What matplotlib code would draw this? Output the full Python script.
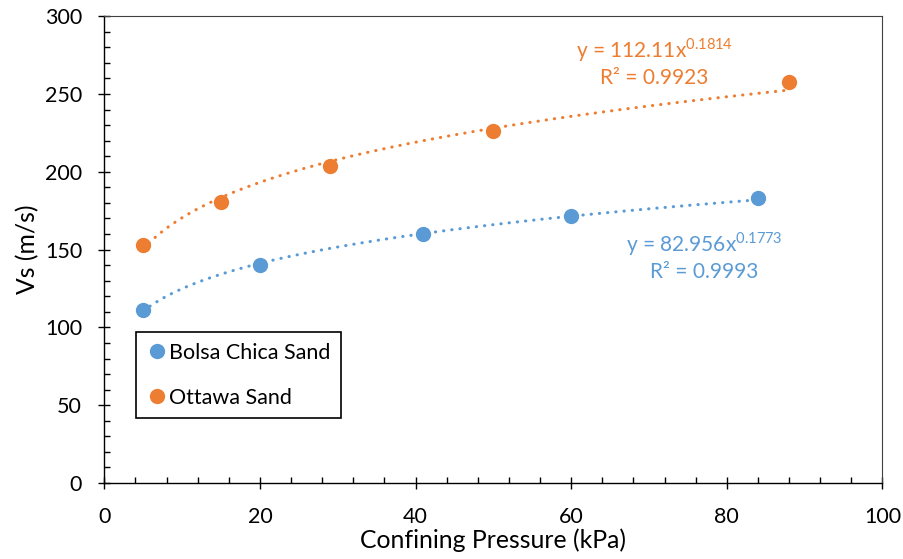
import numpy as np
import matplotlib

matplotlib.use("Agg")
import matplotlib.pyplot as plt
from matplotlib.ticker import MultipleLocator

plt.rcParams["font.family"] = ["Lato", "DejaVu Sans"]

# data
bolsa_p = [5, 20, 41, 60, 84]
bolsa_vs = [111, 140, 160, 171.5, 183]
ottawa_p = [5, 15, 29, 50, 88]
ottawa_vs = [153, 180.5, 204, 226, 258]

blue = "#5B9BD5"
orange = "#ED7D31"


def power_fit(x, y):
    b, log_a = np.polyfit(np.log(x), np.log(y), 1)
    return np.exp(log_a), b


fig = plt.figure(figsize=(9.04, 5.59), dpi=100)
ax = fig.add_axes([0.1154, 0.136, 0.8608, 0.835])

for px, vs, c in [(bolsa_p, bolsa_vs, blue), (ottawa_p, ottawa_vs, orange)]:
    a, b = power_fit(px, vs)
    xs = np.linspace(min(px), max(px), 200)
    ax.plot(xs, a * xs ** b, color=c, lw=2.2, linestyle=(0, (0.1, 2.6)),
            dash_capstyle="round", zorder=2)

ax.plot(bolsa_p, bolsa_vs, "o", color=blue, ms=10, label="Bolsa Chica Sand", zorder=3)
ax.plot(ottawa_p, ottawa_vs, "o", color=orange, ms=10, label="Ottawa Sand", zorder=3)

ax.text(0.707, 0.927, "y = 112.11x$^{\\mathregular{0.1814}}$", transform=ax.transAxes, color=orange,
        fontsize=15, ha="center", va="center")
ax.text(0.707, 0.867, "R² = 0.9923", transform=ax.transAxes, color=orange,
        fontsize=15, ha="center", va="center")
ax.text(0.771, 0.512, "y = 82.956x$^{\\mathregular{0.1773}}$", transform=ax.transAxes, color=blue,
        fontsize=15, ha="center", va="center")
ax.text(0.771, 0.452, "R² = 0.9993", transform=ax.transAxes, color=blue,
        fontsize=15, ha="center", va="center")

ax.set_xlim(0, 100)
ax.set_ylim(0, 300)
ax.xaxis.set_major_locator(MultipleLocator(20))
ax.xaxis.set_minor_locator(MultipleLocator(4))
ax.yaxis.set_major_locator(MultipleLocator(50))
ax.yaxis.set_minor_locator(MultipleLocator(10))
ax.tick_params(which="major", direction="inout", length=8, width=1.0, labelsize=15.5)
ax.tick_params(axis="x", which="major", pad=13)
ax.tick_params(axis="y", which="major", pad=12)
ax.tick_params(which="minor", direction="in", length=4, width=1.0)
for side in ["top", "right"]:
    ax.spines[side].set_linewidth(0.8)
    ax.spines[side].set_color("#404040")
for side in ["left", "bottom"]:
    ax.spines[side].set_linewidth(1.0)

ax.set_xlabel("Confining Pressure (kPa)", fontsize=17.8, labelpad=1)
ax.set_ylabel("Vs (m/s)", fontsize=17.8, labelpad=4)

leg = ax.legend(loc="upper left", bbox_to_anchor=(0.041, 0.323), borderaxespad=0, fontsize=15.5,
                handletextpad=0.1, handlelength=0.9, borderpad=0.5, labelspacing=1.15,
                fancybox=False, edgecolor="black", framealpha=1)
leg.get_frame().set_linewidth(1.2)

fig.savefig("out.png", dpi=100)
